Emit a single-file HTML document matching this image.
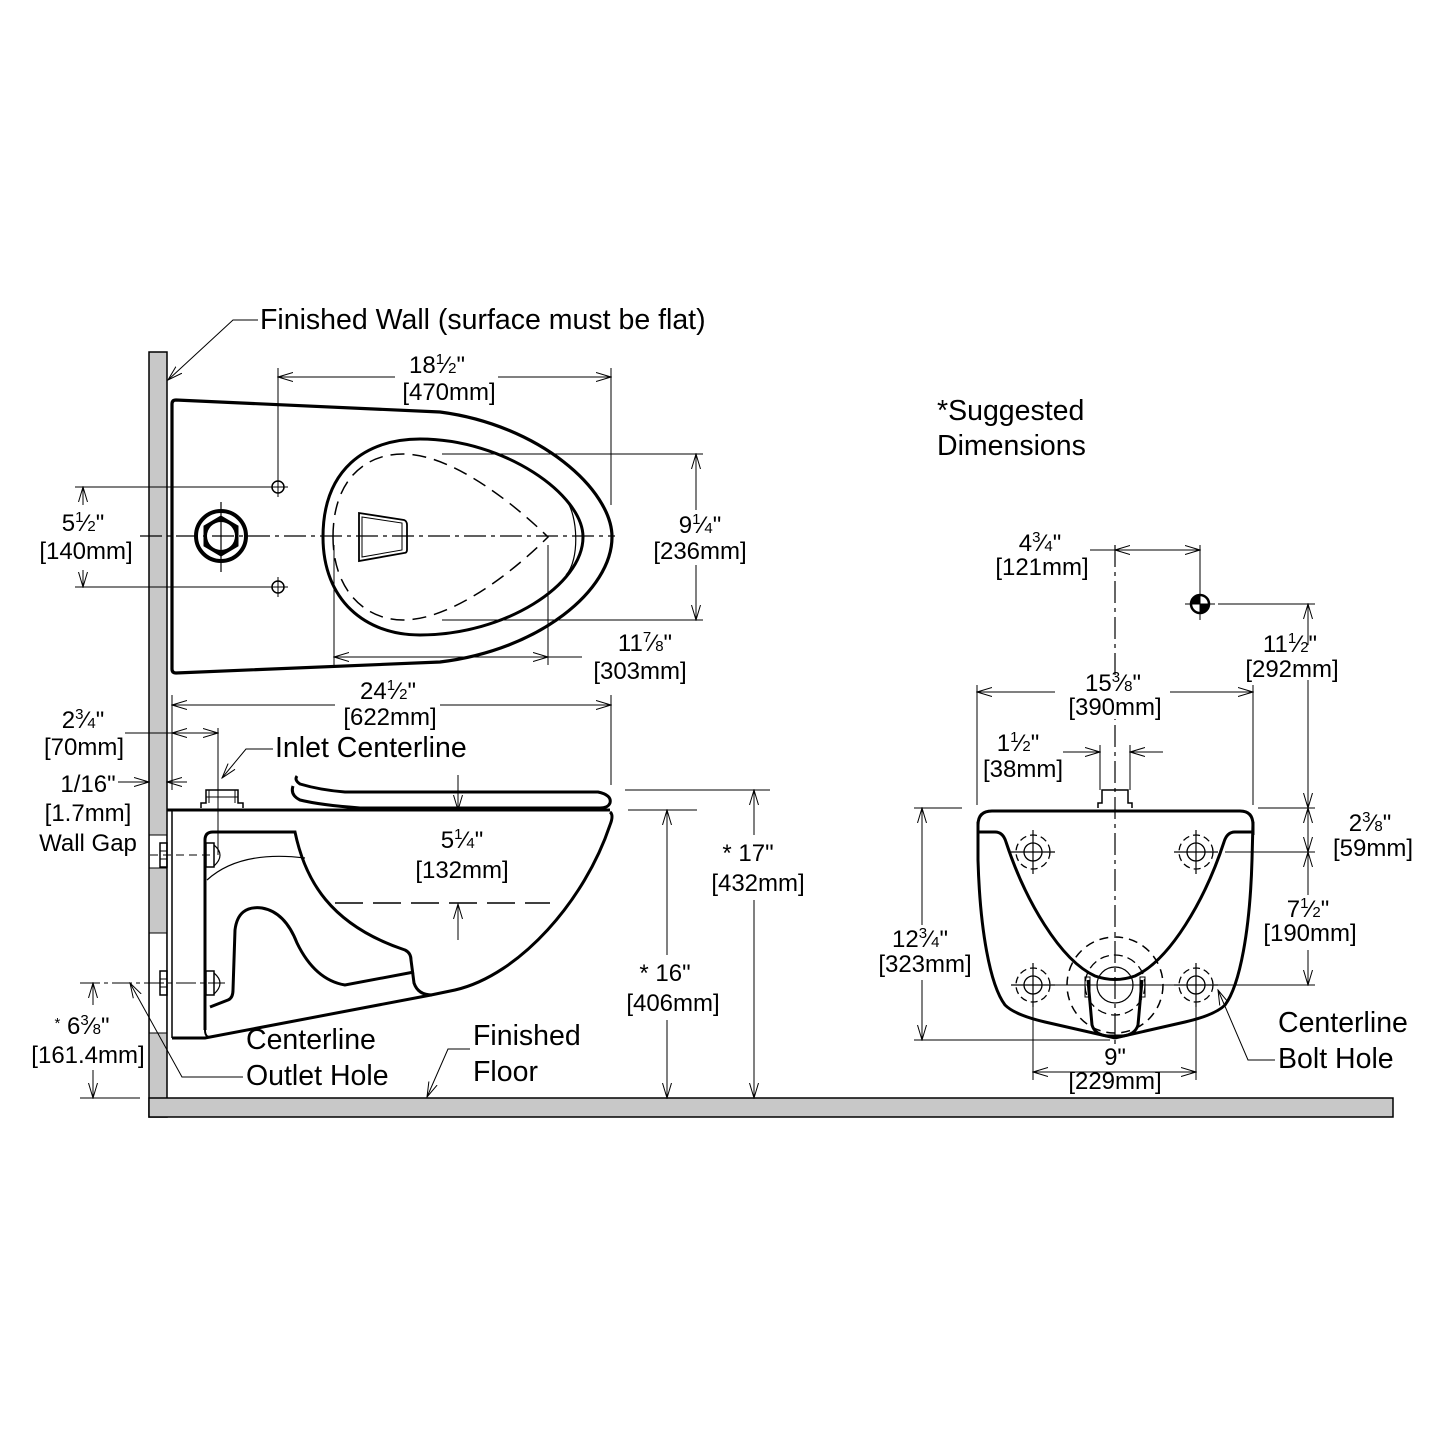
<!DOCTYPE html>
<html><head><meta charset="utf-8"><style>
html,body{margin:0;padding:0;background:#fff}
svg{display:block}
text{font-family:"Liberation Sans",sans-serif;fill:#000}
.t{font-size:24px;text-anchor:middle}
.L{font-size:28.5px}
.f{font-size:15px}
</style></head><body>
<svg width="1445" height="1445" viewBox="0 0 1445 1445" xmlns="http://www.w3.org/2000/svg">
<defs>
<marker id="a" markerWidth="16" markerHeight="10" refX="15" refY="5" orient="auto-start-reverse" markerUnits="userSpaceOnUse">
<path d="M0,0.5 L15,5 L0,9.5" fill="none" stroke="#000" stroke-width="1"/>
</marker>
<g id="bh">
<circle r="17" fill="none" stroke="#000" stroke-width="1.3" stroke-dasharray="7,4"/>
<circle r="9" fill="none" stroke="#000" stroke-width="1.3"/>
<line x1="-22" y1="0" x2="22" y2="0" stroke="#000" stroke-width="1.2"/>
<line x1="0" y1="-22" x2="0" y2="22" stroke="#000" stroke-width="1.2"/>
</g>
</defs>

<rect x="149" y="352" width="18" height="765" fill="#c8c8c8" stroke="#000" stroke-width="1.5"/>
<rect x="149" y="1098" width="1244" height="19" fill="#c8c8c8" stroke="#000" stroke-width="1.5"/>
<rect x="150" y="1099" width="17" height="17" fill="#c8c8c8"/>
<rect x="150" y="835" width="16" height="33" fill="#fff"/>
<rect x="150" y="933" width="16" height="100" fill="#fff"/>
<line x1="149" y1="835" x2="167" y2="835" stroke="#000"/>
<line x1="149" y1="868" x2="167" y2="868" stroke="#000"/>
<line x1="149" y1="933" x2="167" y2="933" stroke="#000"/>
<line x1="149" y1="1033" x2="167" y2="1033" stroke="#000"/>

<g fill="none" stroke="#000">
<path d="M172,404 Q172,400 176,400 L440,412 C540,425 612,490 612,537 C612,590 540,650 440,662 L176,673 Q172,673 172,669 Z" stroke-width="3.2"/>
<path d="M323,537 C323,470 365,439 420,439 C505,439 583,495 583,537 C583,585 505,635 420,635 C365,635 323,600 323,537 Z" stroke-width="3"/>
<path d="M566,500 C578,515 580,560 566,575" stroke-width="1.2"/>
<path d="M333,537 C333,480 365,454 403,454 C450,454 510,500 548,537 C510,575 450,620 403,620 C365,620 333,590 333,537 Z" stroke-width="1.5" stroke-dasharray="14,8"/>
<path d="M359,513 L404,520 Q407,521 407,525 L407,550 Q407,553 404,553 L359,561 Z" stroke-width="1.8"/>
<path d="M362,517 L402,523 L402,550 L362,557 Z" stroke-width="1"/>
<circle cx="221" cy="536" r="25" stroke-width="4"/>
<path d="M221,516 L238,526 L238,546 L221,556 L204,546 L204,526 Z" fill="#000" stroke-width="1"/>
<circle cx="221" cy="536" r="14" fill="#fff" stroke="none"/>
<line x1="221" y1="502" x2="221" y2="572" stroke-width="1.2"/>
<circle cx="278" cy="487" r="6" stroke-width="1.5"/><line x1="268" y1="487" x2="288" y2="487"/><line x1="278" y1="477" x2="278" y2="497"/>
<circle cx="278" cy="587" r="6" stroke-width="1.5"/><line x1="268" y1="587" x2="288" y2="587"/><line x1="278" y1="577" x2="278" y2="597"/>
<line x1="140" y1="536" x2="615" y2="536" stroke-width="1.2" stroke-dasharray="22,5,4,5"/>

<line x1="278" y1="368" x2="278" y2="478" stroke-width="1"/>
<line x1="611" y1="368" x2="611" y2="505" stroke-width="1"/>
<line x1="278" y1="377" x2="395" y2="377" stroke-width="1" marker-start="url(#a)"/>
<line x1="498" y1="377" x2="611" y2="377" stroke-width="1" marker-end="url(#a)"/>
<line x1="75" y1="487" x2="270" y2="487" stroke-width="1"/>
<line x1="75" y1="587" x2="270" y2="587" stroke-width="1"/>
<line x1="83" y1="505" x2="83" y2="487" stroke-width="1" marker-end="url(#a)"/>
<line x1="83" y1="570" x2="83" y2="587" stroke-width="1" marker-end="url(#a)"/>
<line x1="442" y1="454" x2="703" y2="454" stroke-width="1"/>
<line x1="442" y1="620" x2="703" y2="620" stroke-width="1"/>
<line x1="696" y1="510" x2="696" y2="454" stroke-width="1" marker-end="url(#a)"/>
<line x1="696" y1="565" x2="696" y2="620" stroke-width="1" marker-end="url(#a)"/>
<line x1="334" y1="545" x2="334" y2="665" stroke-width="1"/>
<line x1="548" y1="545" x2="548" y2="665" stroke-width="1"/>
<line x1="334" y1="657" x2="548" y2="657" stroke-width="1" marker-start="url(#a)" marker-end="url(#a)"/>
<line x1="548" y1="657" x2="582" y2="657" stroke-width="1"/>
<path d="M258,320 L233,320 L168,380" stroke-width="1" marker-end="url(#a)"/>

<line x1="167" y1="810" x2="610" y2="810" stroke-width="3"/>
<line x1="172" y1="810" x2="172" y2="1038" stroke-width="1.5"/>
<path d="M610,812 Q614,815 610,825 C585,900 520,975 455,990 L431,995 L205,1038 L172,1038" stroke-width="3"/>
<path d="M205,1030 L205,840 Q205,832 213,832 L295,832 C305,880 330,925 405,950 Q411,953 411,960 L414,983 Q418,995 432,995" stroke-width="3"/>
<path d="M207,880 Q240,850 305,858" stroke-width="1.2"/>
<path d="M210,1007 L228,1000 Q233,998 233,990 L235,930 Q238,905 262,908 Q285,912 297,943 Q315,980 345,985 L414,972" stroke-width="3"/>
<path d="M205,1030 Q205,1040 215,1036" stroke-width="2"/>
<path d="M297,776 Q294,780 300,784 Q320,790 345,792 L598,792 Q612,795 610,803 Q608,808 600,808 L360,808 Q320,805 300,800 Q290,795 293,786" stroke-width="3"/>
<path d="M201,808 L201,803 L206,803 L206,790 L238,790 L238,803 L243,803 L243,808" stroke-width="1.5"/>
<line x1="209" y1="790" x2="209" y2="803"/><line x1="235" y1="790" x2="235" y2="803"/><line x1="206" y1="797" x2="238" y2="797"/>
<line x1="218" y1="728" x2="218" y2="855" stroke-width="1"/>
<rect x="160" y="843" width="7" height="24" stroke-width="1.5"/><line x1="160" y1="851" x2="167" y2="851"/><line x1="160" y1="859" x2="167" y2="859"/>
<rect x="206" y="843" width="8" height="24" stroke-width="1.5"/><path d="M214,845 Q226,855 214,866" stroke-width="1.2"/>
<line x1="150" y1="855" x2="215" y2="855" stroke-width="1" stroke-dasharray="8,5"/>
<rect x="160" y="971" width="7" height="24" stroke-width="1.5"/><line x1="160" y1="979" x2="167" y2="979"/><line x1="160" y1="987" x2="167" y2="987"/>
<rect x="206" y="971" width="8" height="24" stroke-width="1.5"/><path d="M214,973 Q226,983 214,994" stroke-width="1.2"/>
<line x1="80" y1="983" x2="225" y2="983" stroke-width="1" stroke-dasharray="20,4,4,4"/>

<line x1="172" y1="695" x2="172" y2="790" stroke-width="1"/>
<line x1="611" y1="695" x2="611" y2="785" stroke-width="1"/>
<line x1="172" y1="705" x2="335" y2="705" stroke-width="1" marker-start="url(#a)"/>
<line x1="440" y1="705" x2="611" y2="705" stroke-width="1" marker-end="url(#a)"/>
<line x1="125" y1="733" x2="218" y2="733" stroke-width="1"/>
<line x1="195" y1="733" x2="172" y2="733" stroke-width="1" marker-end="url(#a)"/>
<line x1="195" y1="733" x2="218" y2="733" stroke-width="1" marker-end="url(#a)"/>
<line x1="118" y1="782" x2="149" y2="782" stroke-width="1" marker-end="url(#a)"/>
<line x1="187" y1="782" x2="167" y2="782" stroke-width="1" marker-end="url(#a)"/>
<path d="M273,749 L246,749 L222,778" stroke-width="1" marker-end="url(#a)"/>
<line x1="458" y1="775" x2="458" y2="810" stroke-width="1" marker-end="url(#a)"/>
<line x1="458" y1="940" x2="458" y2="904" stroke-width="1" marker-end="url(#a)"/>
<line x1="335" y1="903" x2="550" y2="903" stroke-width="1.5" stroke-dasharray="28,10"/>
<line x1="625" y1="790" x2="770" y2="790" stroke-width="1"/>
<line x1="628" y1="810" x2="697" y2="810" stroke-width="1"/>
<line x1="754" y1="835" x2="754" y2="790" stroke-width="1" marker-end="url(#a)"/>
<line x1="754" y1="900" x2="754" y2="1098" stroke-width="1" marker-end="url(#a)"/>
<line x1="667" y1="955" x2="667" y2="810" stroke-width="1" marker-end="url(#a)"/>
<line x1="667" y1="1020" x2="667" y2="1098" stroke-width="1" marker-end="url(#a)"/>
<line x1="80" y1="1098" x2="140" y2="1098" stroke-width="1"/>
<line x1="93" y1="1005" x2="93" y2="983" stroke-width="1" marker-end="url(#a)"/>
<line x1="93" y1="1070" x2="93" y2="1098" stroke-width="1" marker-end="url(#a)"/>
<path d="M243,1077 L182,1077 L130,983" stroke-width="1" marker-end="url(#a)"/>
<path d="M470,1049 L448,1049 L427,1097" stroke-width="1" marker-end="url(#a)"/>

<path d="M978,825 Q978,811 992,811 L1240,811 Q1253,811 1253,825 L1253,835" stroke-width="3"/>
<path d="M978,822 L978,860 C980,930 990,985 1005,1005 Q1015,1015 1045,1022 L1115,1038 L1185,1022 Q1215,1015 1225,1005 C1240,985 1250,930 1252,860 L1253,822" stroke-width="3"/>
<path d="M978,832 L995,832 Q1003,832 1006,842 C1025,900 1060,960 1095,976 Q1115,983 1135,976 C1170,960 1205,900 1224,842 Q1227,832 1235,832 L1253,832" stroke-width="3"/>
<path d="M1088,980 L1092,1025 Q1095,1035 1108,1036 L1122,1036 Q1135,1035 1138,1025 L1142,980" stroke-width="3"/>
<rect x="1085" y="977" width="5" height="20" stroke-width="1"/><rect x="1140" y="977" width="5" height="20" stroke-width="1"/>
<circle cx="1115" cy="985" r="48" stroke-width="1.5" stroke-dasharray="9,6"/>
<circle cx="1115" cy="985" r="30" stroke-width="1.3" stroke-dasharray="9,5"/>
<circle cx="1115" cy="985" r="18" stroke-width="1.2"/>
<line x1="1050" y1="985" x2="1180" y2="985" stroke-width="1"/>
<use href="#bh" x="1033" y="852"/><use href="#bh" x="1196" y="852"/>
<use href="#bh" x="1033" y="985"/><use href="#bh" x="1196" y="985"/>
<path d="M1098,808 L1098,803 L1102,803 L1102,790 L1128,790 L1128,803 L1132,803 L1132,808" stroke-width="1.5"/>
<line x1="1115" y1="545" x2="1115" y2="1045" stroke-width="1.2" stroke-dasharray="22,5,4,5"/>
<line x1="1200" y1="545" x2="1200" y2="620" stroke-width="1"/>
<line x1="1185" y1="604" x2="1215" y2="604" stroke-width="1"/>
<circle cx="1200" cy="604" r="9" stroke-width="2.5"/>
<path d="M1200,604 L1200,595 A9,9 0 0 0 1191,604 Z M1200,604 L1209,604 A9,9 0 0 1 1200,613 Z" fill="#000"/>
<line x1="1115" y1="550" x2="1200" y2="550" stroke-width="1" marker-start="url(#a)" marker-end="url(#a)"/>
<line x1="1090" y1="550" x2="1115" y2="550" stroke-width="1"/>
<line x1="1218" y1="604" x2="1315" y2="604" stroke-width="1"/>
<line x1="1308" y1="645" x2="1308" y2="604" stroke-width="1" marker-end="url(#a)"/>
<line x1="1308" y1="680" x2="1308" y2="808" stroke-width="1" marker-end="url(#a)"/>
<line x1="977" y1="685" x2="977" y2="805" stroke-width="1"/>
<line x1="1253" y1="685" x2="1253" y2="805" stroke-width="1"/>
<line x1="977" y1="692" x2="1055" y2="692" stroke-width="1" marker-start="url(#a)"/>
<line x1="1170" y1="692" x2="1253" y2="692" stroke-width="1" marker-end="url(#a)"/>
<line x1="1100" y1="745" x2="1100" y2="790" stroke-width="1"/>
<line x1="1130" y1="745" x2="1130" y2="790" stroke-width="1"/>
<line x1="1063" y1="752" x2="1100" y2="752" stroke-width="1" marker-end="url(#a)"/>
<line x1="1163" y1="752" x2="1130" y2="752" stroke-width="1" marker-end="url(#a)"/>
<line x1="1258" y1="808" x2="1315" y2="808" stroke-width="1"/>
<line x1="1225" y1="852" x2="1315" y2="852" stroke-width="1"/>
<line x1="1215" y1="985" x2="1315" y2="985" stroke-width="1"/>
<line x1="1308" y1="808" x2="1308" y2="852" stroke-width="1" marker-start="url(#a)" marker-end="url(#a)"/>
<line x1="1308" y1="895" x2="1308" y2="852" stroke-width="1" marker-end="url(#a)"/>
<line x1="1308" y1="950" x2="1308" y2="985" stroke-width="1" marker-end="url(#a)"/>
<line x1="914" y1="808" x2="962" y2="808" stroke-width="1"/>
<line x1="914" y1="1040" x2="1110" y2="1040" stroke-width="1"/>
<line x1="922" y1="925" x2="922" y2="808" stroke-width="1" marker-end="url(#a)"/>
<line x1="922" y1="980" x2="922" y2="1040" stroke-width="1" marker-end="url(#a)"/>
<line x1="1033" y1="1000" x2="1033" y2="1080" stroke-width="1"/>
<line x1="1196" y1="1000" x2="1196" y2="1080" stroke-width="1"/>
<line x1="1033" y1="1072" x2="1196" y2="1072" stroke-width="1" marker-start="url(#a)" marker-end="url(#a)"/>
<path d="M1275,1060 L1248,1060 L1218,990" stroke-width="1" marker-end="url(#a)"/>
</g>

<rect x="1060" y="675" width="110" height="44" fill="#fff"/>

<text class="L" x="260" y="329">Finished Wall (surface must be flat)</text>
<text class="L" x="275" y="757">Inlet Centerline</text>
<text class="L" x="246" y="1049">Centerline</text>
<text class="L" x="246" y="1085">Outlet Hole</text>
<text class="L" x="473" y="1045">Finished</text>
<text class="L" x="473" y="1081">Floor</text>
<text class="L" x="937" y="420">*Suggested</text>
<text class="L" x="937" y="455">Dimensions</text>
<text class="L" x="1278" y="1032">Centerline</text>
<text class="L" x="1278" y="1068">Bolt Hole</text>

<text class="t" x="437" y="373">18<tspan class="f" dy="-9">1</tspan><tspan dy="9">⁄</tspan><tspan class="f">2</tspan>"</text>
<text class="t" x="449" y="400">[470mm]</text>
<text class="t" x="83" y="531">5<tspan class="f" dy="-9">1</tspan><tspan dy="9">⁄</tspan><tspan class="f">2</tspan>"</text>
<text class="t" x="86" y="559">[140mm]</text>
<text class="t" x="700" y="533">9<tspan class="f" dy="-9">1</tspan><tspan dy="9">⁄</tspan><tspan class="f">4</tspan>"</text>
<text class="t" x="700" y="559">[236mm]</text>
<text class="t" x="645" y="651">11<tspan class="f" dy="-9">7</tspan><tspan dy="9">⁄</tspan><tspan class="f">8</tspan>"</text>
<text class="t" x="640" y="679">[303mm]</text>
<text class="t" x="388" y="699">24<tspan class="f" dy="-9">1</tspan><tspan dy="9">⁄</tspan><tspan class="f">2</tspan>"</text>
<text class="t" x="390" y="725">[622mm]</text>
<text class="t" x="83" y="728">2<tspan class="f" dy="-9">3</tspan><tspan dy="9">⁄</tspan><tspan class="f">4</tspan>"</text>
<text class="t" x="84" y="755">[70mm]</text>
<text class="t" x="88" y="792">1/16"</text>
<text class="t" x="88" y="821">[1.7mm]</text>
<text class="t" x="88" y="851">Wall Gap</text>
<text class="t" x="462" y="848">5<tspan class="f" dy="-9">1</tspan><tspan dy="9">⁄</tspan><tspan class="f">4</tspan>"</text>
<text class="t" x="462" y="878">[132mm]</text>
<text class="t" x="748" y="861">* 17"</text>
<text class="t" x="758" y="891">[432mm]</text>
<text class="t" x="665" y="981">* 16"</text>
<text class="t" x="673" y="1011">[406mm]</text>
<text class="t" x="82" y="1034"><tspan class="f" dy="-6">*</tspan><tspan dy="6"> 6</tspan><tspan class="f" dy="-9">3</tspan><tspan dy="9">⁄</tspan><tspan class="f">8</tspan>"</text>
<text class="t" x="88" y="1063">[161.4mm]</text>
<text class="t" x="1040" y="551">4<tspan class="f" dy="-9">3</tspan><tspan dy="9">⁄</tspan><tspan class="f">4</tspan>"</text>
<text class="t" x="1042" y="575">[121mm]</text>
<text class="t" x="1290" y="652">11<tspan class="f" dy="-9">1</tspan><tspan dy="9">⁄</tspan><tspan class="f">2</tspan>"</text>
<text class="t" x="1292" y="677">[292mm]</text>
<text class="t" x="1113" y="691">15<tspan class="f" dy="-9">3</tspan><tspan dy="9">⁄</tspan><tspan class="f">8</tspan>"</text>
<text class="t" x="1115" y="715">[390mm]</text>
<text class="t" x="1018" y="751">1<tspan class="f" dy="-9">1</tspan><tspan dy="9">⁄</tspan><tspan class="f">2</tspan>"</text>
<text class="t" x="1023" y="777">[38mm]</text>
<text class="t" x="1370" y="831">2<tspan class="f" dy="-9">3</tspan><tspan dy="9">⁄</tspan><tspan class="f">8</tspan>"</text>
<text class="t" x="1373" y="856">[59mm]</text>
<text class="t" x="1308" y="917">7<tspan class="f" dy="-9">1</tspan><tspan dy="9">⁄</tspan><tspan class="f">2</tspan>"</text>
<text class="t" x="1310" y="941">[190mm]</text>
<text class="t" x="920" y="947">12<tspan class="f" dy="-9">3</tspan><tspan dy="9">⁄</tspan><tspan class="f">4</tspan>"</text>
<text class="t" x="925" y="972">[323mm]</text>
<text class="t" x="1115" y="1065">9"</text>
<text class="t" x="1115" y="1089">[229mm]</text>
</svg>
</body></html>
